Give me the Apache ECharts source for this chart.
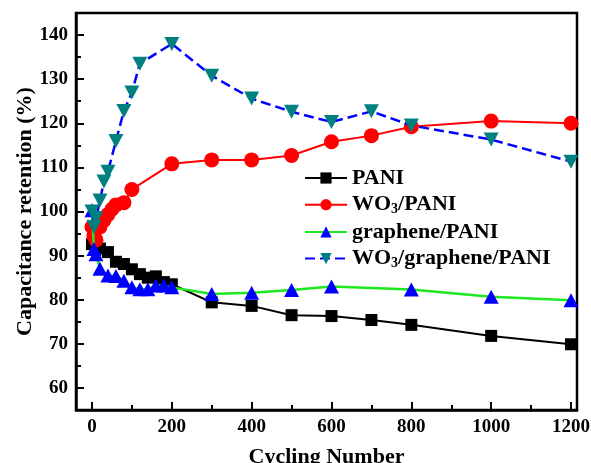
<!DOCTYPE html>
<html>
<head>
<meta charset="utf-8">
<script src="https://cdn.jsdelivr.net/npm/echarts@6/dist/echarts.min.js"></script>
<style>
  html, body { margin: 0; padding: 0; background: #fff; }
  #chart { width: 591px; height: 463px; }
</style>
</head>
<body>
<div id="chart"></div>
<script>
// capacitance retention (%) vs cycling number
const pani_x = [0, 20, 40, 60, 80, 100, 120, 140, 160, 180, 200, 300, 400, 500, 600, 700, 800, 1000, 1200];
const pani_y = [92.6, 91.6, 90.8, 88.6, 88.1, 86.9, 85.8, 85.0, 85.3, 84.0, 83.5, 79.4, 78.6, 76.5, 76.3, 75.4, 74.3, 71.8, 69.9];

const wo3_x = [0, 5, 10, 20, 30, 40, 50, 60, 80, 100, 200, 300, 400, 500, 600, 700, 800, 1000, 1200];
const wo3_y = [96.5, 94.5, 93.5, 96.5, 98, 99.3, 100.5, 101.5, 102, 105, 110.8, 111.7, 111.7, 112.7, 115.8, 117.2, 119.2, 120.5, 120];

const gr_x = [0, 5, 10, 20, 40, 60, 80, 100, 120, 140, 160, 180, 200, 300, 400, 500, 600, 800, 1000, 1200];
const gr_y = [100.3, 91.5, 90.3, 87, 85.5, 85.4, 84.3, 82.8, 82.4, 82.4, 83.2, 83.2, 82.8, 81.3, 81.6, 82.2, 83, 82.3, 80.7, 79.9];

const wgp_x = [0, 5, 10, 20, 30, 40, 60, 80, 100, 120, 200, 300, 400, 500, 600, 700, 800, 1000, 1200];
const wgp_y = [100, 96.5, 98.5, 102.5, 106.8, 109, 116, 122.8, 127, 133.5, 138, 130.8, 125.6, 122.6, 120.3, 122.7, 119.5, 116.3, 111.3];

const x_ticks = [0, 200, 400, 600, 800, 1000, 1200];
const x_minor = [100, 300, 500, 700, 900, 1100];
const y_ticks = [60, 70, 80, 90, 100, 110, 120, 130, 140];
const y_minor = [65, 75, 85, 95, 105, 115, 125, 135];

const FONT = "'Times New Roman', 'Liberation Serif', serif";

const zip = (xs, ys) => xs.map((x, i) => [x, ys[i]]);

const chart = echarts.init(document.getElementById("chart"));

const tickLabel = {
  fontFamily: FONT,
  fontSize: 19,
  fontWeight: "bold",
  color: "#000",
  formatter: (v) => String(v),
};
const titleStyle = { fontFamily: FONT, fontSize: 22, fontWeight: "bold", color: "#000" };
const tickLine = { color: "#000", width: 2 };

const option = {
  backgroundColor: "#fff",
  animation: false,
  grid: {
    left: 76,
    right: 14,
    top: 13,
    bottom: 53,
    containLabel: false,
    outerBoundsMode: "none",
    show: true,
    borderColor: "#000",
    borderWidth: 2.5,
  },
  legend: {
    orient: "vertical",
    left: 299,
    top: 162,
    itemWidth: 42,
    itemHeight: 14,
    itemGap: 4.7,
    data: ["PANI", "WO3/PANI", "graphene/PANI", "WO3/graphene/PANI"],
    formatter: (name) => name.replace("WO3", "WO{s|3}"),
    textStyle: {
      fontFamily: FONT,
      fontSize: 22,
      fontWeight: "bold",
      color: "#000",
      lineHeight: 22,
      rich: {
        s: {
          fontFamily: FONT,
          fontSize: 14,
          fontWeight: "bold",
          color: "#000",
          padding: [9, 0, 0, 0],
        },
      },
    },
  },
  xAxis: [
    {
      type: "value",
      min: -40,
      max: 1215,
      position: "bottom",
      name: "Cycling Number",
      nameLocation: "middle",
      nameGap: 36,
      nameMoveOverlap: false,
      nameTextStyle: titleStyle,
      axisLine: { show: true, onZero: false, lineStyle: { color: "#000", width: 2.5 } },
      axisTick: { show: true, inside: true, length: 8, customValues: x_ticks, lineStyle: tickLine },
      axisLabel: Object.assign({ customValues: x_ticks, margin: 8 }, tickLabel),
      splitLine: { show: false },
    },
    {
      type: "value",
      min: -40,
      max: 1215,
      position: "bottom",
      axisLine: { show: false, onZero: false },
      axisTick: { show: true, inside: true, length: 5, customValues: x_minor, lineStyle: tickLine },
      axisLabel: { show: false },
      splitLine: { show: false },
    },
  ],
  yAxis: [
    {
      type: "value",
      min: 55,
      max: 145,
      position: "left",
      name: "Capacitance retention (%)",
      nameLocation: "middle",
      nameGap: 40,
      nameMoveOverlap: false,
      nameTextStyle: titleStyle,
      axisLine: { show: true, onZero: false, lineStyle: { color: "#000", width: 2.5 } },
      axisTick: { show: true, inside: true, length: 8, customValues: y_ticks, lineStyle: tickLine },
      axisLabel: Object.assign({ customValues: y_ticks, margin: 8 }, tickLabel),
      splitLine: { show: false },
    },
    {
      type: "value",
      min: 55,
      max: 145,
      position: "left",
      axisLine: { show: false, onZero: false },
      axisTick: { show: true, inside: true, length: 5, customValues: y_minor, lineStyle: tickLine },
      axisLabel: { show: false },
      splitLine: { show: false },
    },
  ],
  series: [
    {
      name: "PANI",
      type: "line",
      data: zip(pani_x, pani_y),
      symbol: "rect",
      symbolSize: 12,
      itemStyle: { color: "#000" },
      lineStyle: { color: "#000", width: 2 },
      z: 2,
    },
    {
      name: "WO3/PANI",
      type: "line",
      data: zip(wo3_x, wo3_y),
      symbol: "circle",
      symbolSize: 15,
      itemStyle: { color: "#ff0000" },
      lineStyle: { color: "#ff0000", width: 2 },
      z: 3,
    },
    {
      name: "graphene/PANI",
      type: "line",
      data: zip(gr_x, gr_y),
      symbol: "triangle",
      symbolSize: [15, 14],
      itemStyle: { color: "#0000ff" },
      lineStyle: { color: "#1ee81e", width: 2.5 },
      z: 4,
    },
    {
      name: "WO3/graphene/PANI",
      type: "line",
      data: zip(wgp_x, wgp_y),
      symbol: "path://M0,0L20,0L10,18Z",
      symbolSize: [15, 14],
      itemStyle: { color: "#008080" },
      lineStyle: { color: "#0000ff", width: 2.5, type: [10, 5] },
      z: 5,
    },
  ],
};

chart.setOption(option);
</script>
</body>
</html>
